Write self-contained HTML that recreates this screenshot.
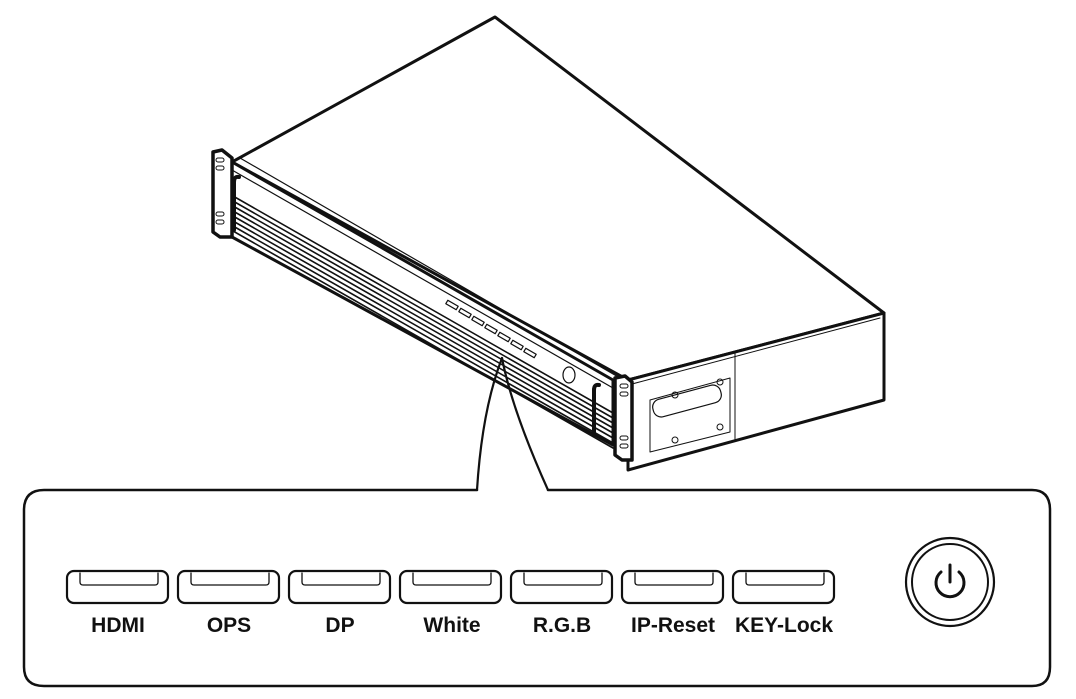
<!DOCTYPE html>
<html><head><style>
html,body{margin:0;padding:0;background:#fff;}
svg{display:block}
text{font-family:"Liberation Sans",sans-serif;font-weight:bold;font-size:21px;fill:#111;}
</style></head><body>
<svg width="1076" height="699" viewBox="0 0 1076 699" xmlns="http://www.w3.org/2000/svg">
<g fill="none" stroke="#111" stroke-linejoin="round" stroke-linecap="round">
<!-- top face -->
<polygon points="232,162 495,17 884,313 628,380" fill="#fff" stroke-width="3"/>
<line x1="240" y1="158" x2="620" y2="378" stroke-width="1.2"/>
<!-- right side face -->
<polygon points="628,380 884,313 884,400 628,470" fill="#fff" stroke-width="3"/>
<line x1="632" y1="384" x2="880" y2="318" stroke-width="1"/>
<line x1="735" y1="352" x2="735" y2="440" stroke-width="1"/>
<path d="M650 400 L730 378 L730 432 L650 452 Z" stroke-width="1"/>
<rect x="652" y="392" width="70" height="18" rx="8" transform="rotate(-15 687 401)" stroke-width="1.2"/>
<circle cx="675" cy="395" r="3" stroke-width="1"/><circle cx="720" cy="382" r="3" stroke-width="1"/>
<circle cx="675" cy="440" r="3" stroke-width="1"/><circle cx="720" cy="427" r="3" stroke-width="1"/>
<!-- front face -->
<polygon points="232,162 613,380 613,445 232,237" fill="#fff" stroke-width="3"/>
<line x1="232" y1="170" x2="613" y2="388" stroke-width="1.2"/>
<g stroke-width="1.6">
<line x1="233" y1="196" x2="613" y2="413"/>
<line x1="233" y1="201" x2="613" y2="418"/>
<line x1="233" y1="206" x2="613" y2="423"/>
<line x1="233" y1="211" x2="613" y2="428"/>
<line x1="233" y1="216" x2="613" y2="433"/>
<line x1="233" y1="221" x2="613" y2="438"/>
<line x1="233" y1="226" x2="613" y2="443"/>
<line x1="233" y1="231" x2="613" y2="448"/>
</g>
<!-- small buttons -->
<g stroke-width="1.2" fill="#fff">
<rect x="446" y="303" width="12" height="4" transform="rotate(30 452 305)"/>
<rect x="459" y="311" width="12" height="4" transform="rotate(30 465 313)"/>
<rect x="472" y="319" width="12" height="4" transform="rotate(30 478 321)"/>
<rect x="485" y="327" width="12" height="4" transform="rotate(30 491 329)"/>
<rect x="498" y="335" width="12" height="4" transform="rotate(30 504 337)"/>
<rect x="511" y="343" width="12" height="4" transform="rotate(30 517 345)"/>
<rect x="524" y="351" width="12" height="4" transform="rotate(30 530 353)"/>
</g>
<ellipse cx="569" cy="375" rx="6" ry="8" stroke-width="1.2"/>
<!-- brackets -->
<path d="M213 152 L222 150 L232 158 L232 237 L220 237 L213 232 Z" fill="#fff" stroke-width="3.5"/>
<path d="M615 378 L625 376 L632 382 L632 460 L622 460 L615 455 Z" fill="#fff" stroke-width="3.5"/>
<g stroke-width="1"><rect x="216" y="158" width="8" height="4" rx="2"/><rect x="216" y="166" width="8" height="4" rx="2"/><rect x="216" y="212" width="8" height="4" rx="2"/><rect x="216" y="220" width="8" height="4" rx="2"/>
<rect x="620" y="384" width="8" height="4" rx="2"/><rect x="620" y="392" width="8" height="4" rx="2"/><rect x="620" y="436" width="8" height="4" rx="2"/><rect x="620" y="444" width="8" height="4" rx="2"/></g>
<path d="M234 230 L234 182 Q234 176 239 177" stroke-width="4"/>
<path d="M594 435 L594 390 Q594 384 599 385" stroke-width="4"/>
<!-- callout lines -->
<path d="M502 358 Q482 410 477 490" stroke-width="2.2"/>
<path d="M502 358 Q512 410 548 490" stroke-width="2.2"/>
<!-- panel -->
<path d="M477 490 L44 490 Q24 490 24 510 L24 667 Q24 686 44 686 L1032 686 Q1050 686 1050 667 L1050 510 Q1050 490 1032 490 L548 490" fill="#fff" stroke-width="2.5"/>
<!-- buttons -->
<g stroke-width="2.2">
<g id="b"><rect x="67" y="571" width="101" height="32" rx="7"/><path d="M80 573 L80 582 Q80 585 83 585 L155 585 Q158 585 158 582 L158 573" stroke-width="1.3"/></g>
<use href="#b" x="111"/><use href="#b" x="222"/><use href="#b" x="333"/><use href="#b" x="444"/><use href="#b" x="555"/><use href="#b" x="666"/>
</g>
<circle cx="950" cy="582" r="44" stroke-width="2.2"/>
<circle cx="950" cy="582" r="38" stroke-width="2"/>
<path d="M941 572 A14 14 0 1 0 959 572" stroke-width="3"/>
<line x1="950" y1="565" x2="950" y2="582" stroke-width="3"/>
</g>
<g text-anchor="middle">
<text x="118" y="632">HDMI</text>
<text x="229" y="632">OPS</text>
<text x="340" y="632">DP</text>
<text x="452" y="632">White</text>
<text x="562" y="632">R.G.B</text>
<text x="673" y="632">IP-Reset</text>
<text x="784" y="632">KEY-Lock</text>
</g>
</svg>
</body></html>
